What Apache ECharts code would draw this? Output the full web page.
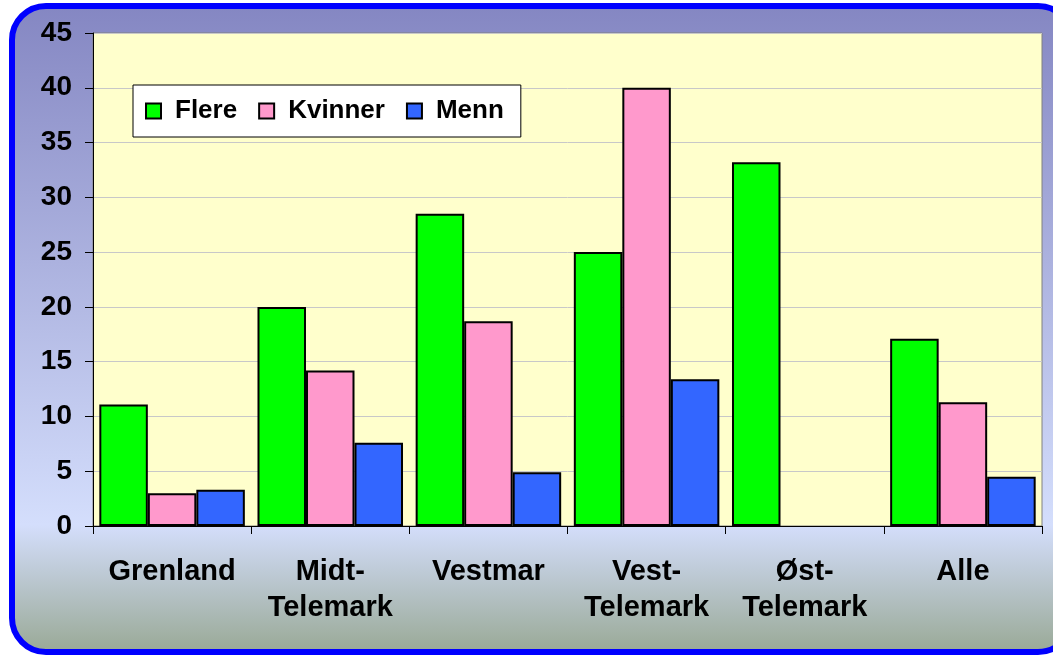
<!DOCTYPE html>
<html>
<head>
<meta charset="utf-8">
<script src="https://cdn.jsdelivr.net/npm/echarts@6/dist/echarts.min.js"></script>
<style>
  html, body { margin: 0; padding: 0; background: #fff; }
  #chart { width: 1053px; height: 656px; }
</style>
</head>
<body>
<div id="chart"></div>
<script>
// data
let categories = ['Grenland', 'Midt-\nTelemark', 'Vestmar', 'Vest-\nTelemark', 'Øst-\nTelemark', 'Alle'];
let flere = [11.1, 20.0, 28.5, 25.0, 33.2, 17.1];
let kvinner = [3.0, 14.2, 18.7, 40.0, 0, 11.3];
let menn = [3.3, 7.6, 4.9, 13.4, 0, 4.5];
let yTicks = [0, 5, 10, 15, 20, 25, 30, 35, 40, 45];

let myChart = echarts.init(document.getElementById('chart'));

let font = 'Arial, "Liberation Sans", sans-serif';

// 0-hoyde stolper skal ikke tegne kantlinje
function bars(values) {
    return values.map(v => v === 0 ? {value: 0, itemStyle: {borderWidth: 0}} : v);
}

function barStyle(color) {
    return {color: color, borderColor: '#000', borderWidth: 2};
}

option = {
    animation: false,
    graphic: [
        {
            type: 'rect',
            z: -10,
            silent: true,
            shape: {x: 12, y: 6, width: 1060, height: 646, r: 34},
            style: {
                fill: new echarts.graphic.LinearGradient(0, 0, 0, 1, [
                    {offset: 0, color: '#8486C2'},
                    {offset: 0.8, color: '#D4DEFC'},
                    {offset: 1, color: '#98A894'}
                ]),
                stroke: '#0000FF',
                lineWidth: 6
            }
        }
    ],
    grid: {
        left: 93,
        right: 11,
        top: 33,
        bottom: 130,
        show: true,
        backgroundColor: '#FFFFCC',
        borderColor: '#808080',
        borderWidth: 1
    },
    legend: {
        data: ['Flere', 'Kvinner', 'Menn'],
        left: 133,
        top: 85,
        backgroundColor: '#fff',
        borderColor: '#000',
        borderWidth: 1,
        padding: [13, 17, 13, 12],
        itemWidth: 15,
        itemHeight: 15,
        itemGap: 21,
        icon: 'rect',
        textStyle: {
            fontFamily: font,
            fontWeight: 'bold',
            fontSize: 26,
            color: '#000',
            padding: [0, 5, 0, 9]
        }
    },
    xAxis: {
        type: 'category',
        data: categories,
        axisLine: {lineStyle: {color: '#000', width: 1}},
        axisTick: {show: true, length: 8, lineStyle: {color: '#000'}},
        axisLabel: {
            interval: 0,
            margin: 28,
            fontFamily: font,
            fontWeight: 'bold',
            fontSize: 29,
            lineHeight: 36,
            color: '#000'
        }
    },
    yAxis: {
        type: 'value',
        min: 0,
        max: yTicks[yTicks.length - 1],
        interval: yTicks[1] - yTicks[0],
        axisLine: {show: true, lineStyle: {color: '#000', width: 1}},
        axisTick: {show: true, length: 8, lineStyle: {color: '#000'}},
        axisLabel: {
            margin: 21,
            fontFamily: font,
            fontWeight: 'bold',
            fontSize: 28,
            color: '#000'
        },
        splitLine: {lineStyle: {color: '#C8C8C8', width: 1}}
    },
    series: [
        {
            name: 'Flere',
            type: 'bar',
            data: bars(flere),
            barGap: '0%',
            barCategoryGap: '8%',
            itemStyle: barStyle('#00FF00')
        },
        {
            name: 'Kvinner',
            type: 'bar',
            data: bars(kvinner),
            itemStyle: barStyle('#FF99CC')
        },
        {
            name: 'Menn',
            type: 'bar',
            data: bars(menn),
            itemStyle: barStyle('#3366FF')
        }
    ]
};

myChart.setOption(option);
</script>
</body>
</html>
